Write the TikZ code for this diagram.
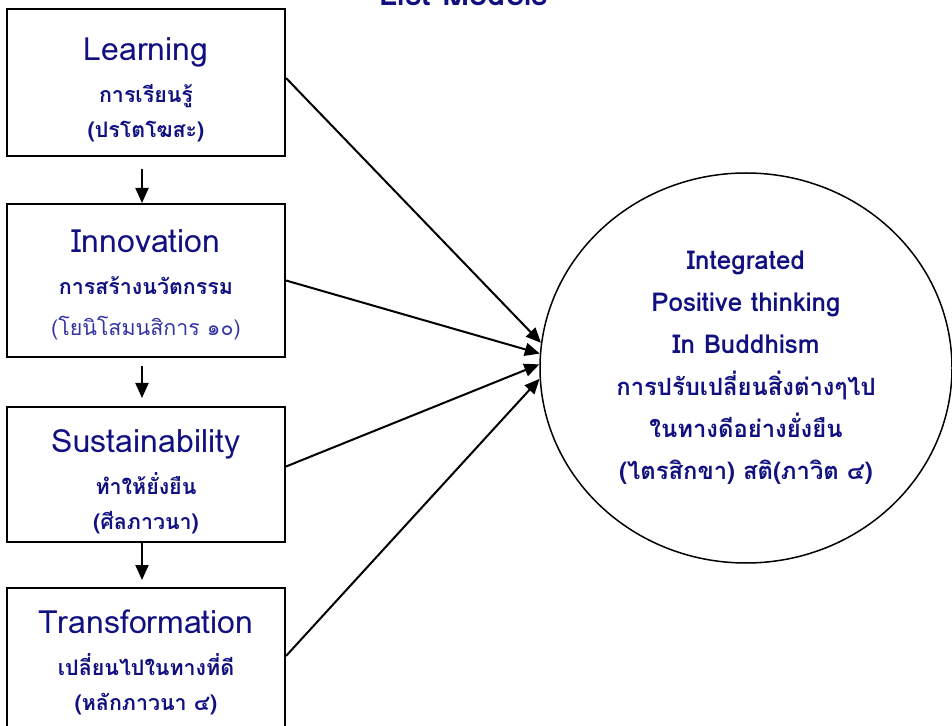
\documentclass[tikz,border=0pt]{standalone}
\usepackage{fontspec}
\newfontfamily\thaifont[Script=Thai]{Loma}
\usetikzlibrary{arrows.meta,positioning,shapes.geometric}
\definecolor{listnavy}{RGB}{16,16,128}
\definecolor{listblue}{RGB}{52,52,165}
\newcommand{\headsize}{\mdseries\fontsize{16}{19}\selectfont}
\newcommand{\goalsize}{\fontsize{13}{21}\selectfont}
\newcommand{\toppad}[1]{\rule{0pt}{#1}}
\tikzset{
    listbox/.style={draw, line width=1pt, align=center, minimum width=139pt, inner sep=2pt, text=listnavy, font=\thaifont\bfseries\fontsize{10.7}{17.5}\selectfont},
    listgoal/.style={ellipse, draw, line width=0.75pt, inner sep=0pt, minimum width=206pt, minimum height=195pt, align=center, text=listnavy, font=\thaifont\bfseries\fontsize{11.9}{21}\selectfont},
    listarrow/.style={-{Triangle[length=7.5pt,width=6.5pt]}, line width=1pt},
    listtitle/.style={text=listnavy, font=\thaifont\bfseries\fontsize{16.5}{18}\selectfont, inner sep=0pt, anchor=base}
}

\begin{document}
\begin{tikzpicture}[x=0.5pt, y=-0.5pt]
    \useasboundingbox (0,0) rectangle (952,726);
    \node[listtitle] (title) at (464,6) {List Models};

    \node[listbox, minimum height=73.5pt] (learn) at (146,82.5) {\toppad{19pt}{\headsize Learning}\\[3.5pt] การเรียนรู้\\ (ปรโตโฆสะ)};
    \node[listbox, minimum height=76.5pt, below=23pt of learn] (innov) {\toppad{16pt}{\headsize Innovation}\\[3.5pt] การสร้างนวัตกรรม\\[3pt] {\mdseries\color{listblue}(โยนิโสมนสิการ ๑๐)}};
    \node[listbox, minimum height=67.5pt, below=24pt of innov] (sustain) {\toppad{19pt}{\headsize Sustainability}\\[3.5pt] ทำให้ยั่งยืน\\ (ศีลภาวนา)};
    \node[listbox, minimum height=74pt, below=22pt of sustain] (transf) {{\headsize Transformation}\\[3.5pt] เปลี่ยนไปในทางที่ดี\\ (หลักภาวนา ๔)};

    \node[listgoal] (goal) at (746,368) {{\goalsize Integrated}\\ {\goalsize Positive thinking}\\ {\goalsize In Buddhism}\\ การปรับเปลี่ยนสิ่งต่างๆไป\\ ในทางดีอย่างยั่งยืน\\ (ไตรสิกขา) สติ(ภาวิต ๔)};

    \draw[listarrow, shorten <=6pt] ([xshift=-2pt]learn.south) -- ([xshift=-2pt]innov.north);
    \draw[listarrow, shorten <=4pt, shorten >=4pt] ([xshift=-2pt]innov.south) -- ([xshift=-2pt]sustain.north);
    \draw[listarrow, shorten >=3.5pt] ([xshift=-2pt]sustain.south) -- ([xshift=-2pt]transf.north);

    \draw[listarrow] ([yshift=2.25pt]learn.east) -- (goal.173);
    \draw[listarrow] (innov.east) -- (goal.176);
    \draw[listarrow] ([yshift=4pt]sustain.east) -- (goal.179);
    \draw[listarrow] ([yshift=3pt]transf.east) -- (goal.183);
\end{tikzpicture}
\end{document}
